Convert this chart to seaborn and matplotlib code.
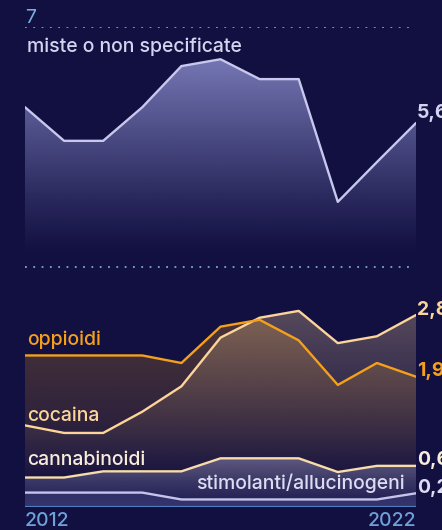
import numpy as np
import pandas as pd
import matplotlib
matplotlib.use("Agg")
import matplotlib.pyplot as plt
import seaborn as sns
from matplotlib.colors import to_rgb

years = list(range(2012, 2023))
miste = [5.83, 5.34, 5.34, 5.83, 6.43, 6.53, 6.24, 6.24, 4.45, 5.03, 5.6]
oppioidi = [2.21, 2.21, 2.21, 2.21, 2.10, 2.63, 2.73, 2.43, 1.78, 2.10, 1.9]
cocaina = [1.19, 1.08, 1.08, 1.39, 1.76, 2.47, 2.76, 2.86, 2.39, 2.49, 2.8]
cannabinoidi = [0.43, 0.43, 0.52, 0.52, 0.52, 0.71, 0.71, 0.71, 0.51, 0.60, 0.6]
stimolanti = [0.21, 0.21, 0.21, 0.21, 0.11, 0.11, 0.11, 0.11, 0.11, 0.11, 0.2]
end_labels = ["5,6", "2,8", "1,9", "0,6", "0,2"]
series_names = ["miste o non specificate", "oppioidi", "cocaina", "cannabinoidi", "stimolanti/allucinogeni"]
y_top_label = "7"

BG = "#121041"
sns.set_style("dark", {"axes.facecolor": BG, "figure.facecolor": BG})
plt.rcParams['font.family'] = ['Inter', 'DejaVu Sans']

fig = plt.figure(figsize=(4.42, 5.30), dpi=100)
ax = fig.add_axes([25/442, 23/530, 391/442, 480/530])
ax.set_facecolor(BG)
ax.set_xlim(2012, 2022)
ax.set_ylim(0, 7)
ax.axis("off")

x = np.array(years, dtype=float)


def grad_fill(yv, base, color, stops_v, stops_a, z):
    yv = np.asarray(yv, float)
    basev = np.full_like(yv, base) if np.isscalar(base) else np.asarray(base, float)
    poly = ax.fill_between(x, yv, basev, facecolor="none", edgecolor="none", zorder=z)
    vlo, vhi = float(basev.min()), float(yv.max())
    n = 300
    vs = np.linspace(vhi, vlo, n)
    a = np.interp(vs, stops_v, stops_a)
    rgba = np.zeros((n, 2, 4))
    rgba[..., :3] = to_rgb(color)
    rgba[..., 3] = a[:, None]
    im = ax.imshow(rgba, extent=[2012, 2022, vlo, vhi], origin="upper",
                   aspect="auto", interpolation="bilinear", zorder=z)
    im.set_clip_path(poly.get_paths()[0], transform=ax.transData)


# gridlines
for v in (7, 3.5):
    ax.plot([2012, 2021.95], [v, v], color="#78a8dc", lw=1.3,
            linestyle=(0, (1, 3.6)), dash_capstyle="butt", zorder=1)
ax.plot([2012, 2022], [0, 0], color="#4f7fc0", lw=1.5, zorder=6, solid_capstyle="butt")

# fills
grad_fill(miste, 3.7, "#8688c8", [3.7, 4.4, 6.6], [0.0, 0.18, 0.88], 2)
grad_fill(oppioidi, 0, "#f5a01a", [0.3, 1.2, 2.7], [0.0, 0.12, 0.25], 2)
grad_fill(cocaina, 0, "#fdd59a", [0.3, 1.2, 2.9], [0.0, 0.08, 0.30], 2.1)
grad_fill(cannabinoidi, stimolanti, "#b0aed8", [0.1, 0.72], [0.12, 0.42], 2.2)
grad_fill(stimolanti, 0, "#8a8ad8", [0.0, 0.22], [0.30, 0.25], 2.3)

df = pd.DataFrame({"anno": years * 5,
                   "valore": miste + oppioidi + cocaina + cannabinoidi + stimolanti,
                   "serie": sum([[s] * len(years) for s in series_names], [])})
line_colors = {"miste o non specificate": "#c8c8ee", "oppioidi": "#f5a01a",
               "cocaina": "#fdd59a", "cannabinoidi": "#f8dcaa",
               "stimolanti/allucinogeni": "#c4c4ec"}
order = ["miste o non specificate", "stimolanti/allucinogeni", "cannabinoidi", "cocaina", "oppioidi"]
for i, s in enumerate(order):
    sns.lineplot(data=df[df["serie"] == s], x="anno", y="valore", color=line_colors[s],
                 lw=1.7, ax=ax, zorder=4 + i * 0.1, legend=False)
ax.set_xlim(2012, 2022)
ax.set_ylim(0, 7)

fs = 14
fw = "medium"
# category labels
ax.text(2012.05, 6.71, series_names[0], color="#d4d4f0", fontsize=fs, fontweight=fw, va="center", ha="left", zorder=8)
ax.text(2012.05, 2.44, series_names[1], color="#f5a01a", fontsize=fs, fontweight=fw, va="center", ha="left", zorder=8)
ax.text(2012.05, 1.33, series_names[2], color="#fdd59a", fontsize=fs, fontweight=fw, va="center", ha="left", zorder=8)
ax.text(2012.05, 0.69, series_names[3], color="#f8ecd8", fontsize=fs, fontweight=fw, va="center", ha="left", zorder=8)
ax.text(2021.72, 0.34, series_names[4], color="#dcdcf2", fontsize=fs, fontweight=fw, va="center", ha="right", zorder=8)

# end value labels
end_y = [5.75, 2.88, 1.99, 0.69, 0.28]
end_c = ["#d4d4f0", "#fdd59a", "#f5a01a", "#f8ecd8", "#dcdcf2"]
for lab, yy, c in zip(end_labels, end_y, end_c):
    ax.text(2022.03, yy, lab, color=c, fontsize=14, fontweight="bold", va="center",
            ha="left", clip_on=False, zorder=8)

# axis labels
ax.text(2012, 7.065, y_top_label, color="#7aaee0", fontsize=fs, va="baseline", ha="left", clip_on=False)
ax.text(2012, -0.08, str(years[0]), color="#6fa0d8", fontsize=fs, fontweight=fw, va="top", ha="left", clip_on=False)
ax.text(2022, -0.08, str(years[-1]), color="#6fa0d8", fontsize=fs, fontweight=fw, va="top", ha="right", clip_on=False)

fig.savefig("out.png", dpi=100, facecolor=BG)
